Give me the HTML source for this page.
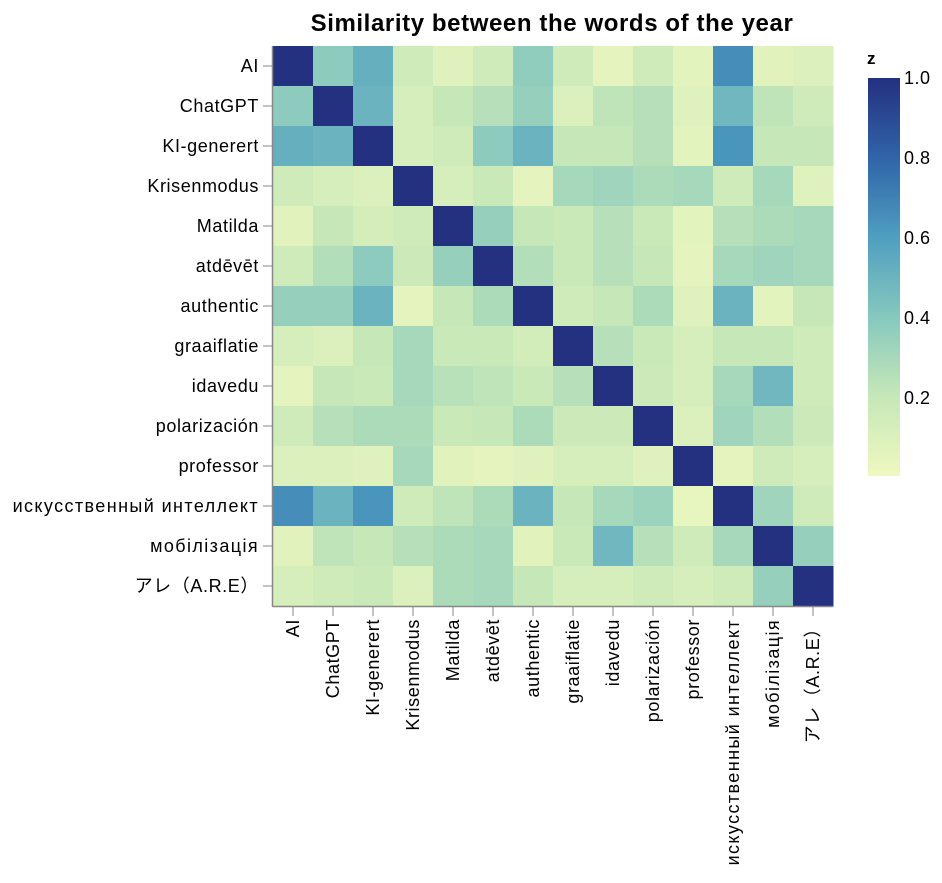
<!DOCTYPE html>
<html><head><meta charset="utf-8"><style>
body{margin:0;background:#fff;width:942px;height:878px;overflow:hidden}
svg text{font-family:"Liberation Sans","Noto Sans CJK JP",sans-serif}
</style></head><body>
<svg id="chart" width="942" height="878" xmlns="http://www.w3.org/2000/svg">
<defs><linearGradient id="lg" x1="0" y1="1" x2="0" y2="0">
<stop offset="0" stop-color="#eff8c0"/><stop offset="0.2" stop-color="#c6e7b8"/><stop offset="0.4" stop-color="#86c8be"/><stop offset="0.6" stop-color="#4f9ec0"/><stop offset="0.8" stop-color="#3064a8"/><stop offset="1" stop-color="#243080"/></linearGradient></defs>
<text x="552" y="31" text-anchor="middle" font-size="24" font-weight="bold" letter-spacing="0.6">Similarity between the words of the year</text>
<g id="cells"></g><g id="axes"></g>
<text x="867" y="64" font-size="17" font-weight="bold">z</text>
<rect x="868" y="78" width="32" height="398" fill="url(#lg)"/>
<g id="legend"></g>
</svg>
<script>
const words = ["AI","ChatGPT","KI-generert","Krisenmodus","Matilda","atdēvēt","authentic","graaiflatie","idavedu","polarización","professor","искусственный интеллект","мобілізація","アレ（A.R.E）"];
const row0 = [1,.38,.52,.15,.08,.15,.37,.15,.05,.15,.06,.66,.07,.1];
const row1 = [.38,1,.5,.12,.2,.25,.35,.1,.22,.25,.08,.48,.22,.15];
const row2 = [.52,.5,1,.12,.15,.38,.5,.2,.2,.25,.06,.63,.2,.2];
const row3 = [.15,.12,.1,1,.12,.18,.05,.3,.32,.28,.3,.15,.3,.08];
const row4 = [.07,.2,.13,.15,1,.35,.2,.18,.25,.18,.06,.25,.28,.3];
const row5 = [.15,.26,.38,.17,.35,1,.26,.18,.25,.2,.05,.3,.32,.3];
const row6 = [.35,.35,.5,.05,.2,.28,1,.15,.2,.28,.08,.5,.06,.2];
const row7 = [.12,.1,.2,.3,.18,.18,.14,1,.25,.18,.12,.2,.2,.15];
const row8 = [.05,.2,.18,.3,.24,.22,.18,.25,1,.17,.12,.3,.48,.15];
const row9 = [.15,.25,.28,.28,.18,.2,.28,.17,.17,1,.1,.32,.26,.17];
const row10 = [.1,.1,.08,.3,.07,.05,.08,.12,.12,.08,1,.05,.15,.12];
const row11 = [.66,.5,.63,.15,.22,.28,.5,.2,.3,.33,.04,1,.32,.15];
const row12 = [.07,.22,.2,.25,.28,.3,.07,.18,.48,.25,.15,.3,1,.35];
const row13 = [.12,.15,.18,.1,.28,.3,.2,.12,.12,.15,.12,.15,.35,1];
const matrix = [row0,row1,row2,row3,row4,row5,row6,row7,row8,row9,row10,row11,row12,row13];
const legendTicks = [0.2,0.4,0.6,0.8,1.0];

const NS="http://www.w3.org/2000/svg";
const X0=273,Y0=46,W=560,H=560;
const bw=W/words.length, bh=H/words.length;
const xs=i=>X0+i*bw, ys=i=>Y0+i*bh;
const stops=[[0,[239,248,192]],[0.2,[198,231,184]],[0.4,[134,200,190]],[0.6,[79,158,192]],[0.8,[48,100,168]],[1,[36,48,128]]];
function color(v){v=Math.max(0,Math.min(1,v));for(let k=1;k<stops.length;k++){if(v<=stops[k][0]){const a=stops[k-1],b=stops[k],t=(v-a[0])/(b[0]-a[0]);return `rgb(${a[1].map((c,j)=>Math.round(c+(b[1][j]-c)*t)).join(',')})`;}}return 'rgb(36,48,128)';}
function mk(tag,attrs,parent){const e=document.createElementNS(NS,tag);for(const k in attrs)e.setAttribute(k,attrs[k]);parent.appendChild(e);return e;}
const cells=document.getElementById('cells'),axes=document.getElementById('axes'),leg=document.getElementById('legend');
matrix.forEach((r,i)=>r.forEach((v,j)=>{const c=mk('rect',{x:xs(j),y:ys(i),width:bw+0.5,height:bh+0.5,fill:color(v)},cells);

}));
mk('line',{x1:X0-0.5,y1:Y0,x2:X0-0.5,y2:Y0+H+1,stroke:'#888','stroke-width':1.5},axes);
mk('line',{x1:X0-0.5,y1:Y0+H+0.5,x2:X0+W,y2:Y0+H+0.5,stroke:'#888','stroke-width':1.5},axes);
words.forEach((w,i)=>{const cy=ys(i)+bh/2;
const ls=/[а-яі]/.test(w)?1.4:0.6;
mk('line',{x1:X0-10,y1:cy,x2:X0,y2:cy,stroke:'#888'},axes);
const t=mk('text',{x:X0-14,y:cy+6,'text-anchor':'end','font-size':18,'letter-spacing':ls},axes);t.textContent=w;


const cx=xs(i)+bw/2;
mk('line',{x1:cx,y1:Y0+H,x2:cx,y2:Y0+H+10,stroke:'#888'},axes);
const u=mk('text',{x:0,y:0,'text-anchor':'end','font-size':18,'letter-spacing':ls,transform:`translate(${cx+6},${Y0+H+13}) rotate(-90)`},axes);u.textContent=w;

});
legendTicks.forEach(v=>{const y=476-(v-0.005)/(0.995)*398;
const t=mk('text',{x:904,y:y+6,'font-size':18,'letter-spacing':0.5},leg);t.textContent=v.toFixed(1);

});
</script>
</body></html>
